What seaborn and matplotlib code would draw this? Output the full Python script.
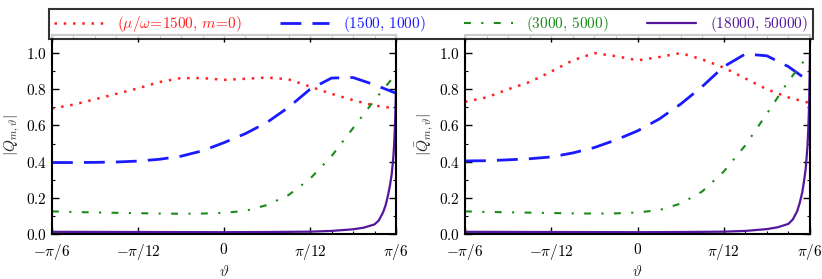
import numpy as np
import matplotlib
matplotlib.use("Agg")
import matplotlib.pyplot as plt
from matplotlib.ticker import FixedLocator, MultipleLocator, FixedFormatter
import seaborn as sns

# angle grid in units of pi/12 (from -pi/6 to pi/6)
u = [-2.0, -1.75, -1.5, -1.25, -1.0, -0.75, -0.5, -0.25, 0.0,
     0.25, 0.5, 0.75, 1.0, 1.25, 1.5, 1.75, 2.0]
u_fine = [-2.0, -1.0, 0.0, 0.5, 1.0, 1.25, 1.5, 1.625, 1.75, 1.8,
          1.85, 1.88, 1.91, 1.93, 1.95, 1.97, 1.98, 1.99, 2.0]

# |Q_{m,theta}|
q_red = [0.694, 0.715, 0.745, 0.775, 0.805, 0.84, 0.862, 0.862, 0.852,
         0.858, 0.865, 0.855, 0.815, 0.775, 0.74, 0.71, 0.694]
q_blue = [0.395, 0.395, 0.396, 0.398, 0.403, 0.413, 0.43, 0.46, 0.505,
          0.555, 0.617, 0.70, 0.80, 0.862, 0.865, 0.825, 0.778]
q_green = [0.125, 0.122, 0.119, 0.117, 0.115, 0.113, 0.112, 0.113, 0.117,
           0.128, 0.160, 0.215, 0.305, 0.43, 0.585, 0.74, 0.885]
q_purple = [0.012, 0.011, 0.010, 0.011, 0.013, 0.017, 0.026, 0.035, 0.053,
            0.075, 0.12, 0.16, 0.22, 0.27, 0.33, 0.43, 0.51, 0.62, 0.80]

# |Qbar_{m,theta}|
qb_red = [0.731, 0.755, 0.80, 0.84, 0.898, 0.96, 1.0, 0.983, 0.96,
          0.978, 1.0, 0.965, 0.92, 0.86, 0.80, 0.755, 0.724]
qb_blue = [0.404, 0.405, 0.410, 0.416, 0.426, 0.448, 0.478, 0.52, 0.57,
           0.635, 0.718, 0.815, 0.925, 0.995, 0.985, 0.925, 0.84]
qb_green = [0.125, 0.122, 0.12, 0.118, 0.116, 0.114, 0.113, 0.114, 0.119,
            0.132, 0.168, 0.235, 0.345, 0.49, 0.665, 0.845, 1.0]
qb_purple = [0.012, 0.011, 0.010, 0.011, 0.013, 0.017, 0.027, 0.037, 0.056,
             0.08, 0.125, 0.17, 0.23, 0.29, 0.36, 0.48, 0.58, 0.72, 1.0]

labels = [r"$(\mu/\omega\!=\!1500,\,m\!=\!0)$", r"$(1500,\,1000)$",
          r"$(3000,\,5000)$", r"$(18000,\,50000)$"]
xtick_labels = [r"$-\pi/6$", r"$-\pi/12$", r"$0$", r"$\pi/12$", r"$\pi/6$"]
ytick_labels = [r"$0.0$", r"$0.2$", r"$0.4$", r"$0.6$", r"$0.8$", r"$1.0$"]

sns.set_style("ticks")
plt.rcParams["mathtext.fontset"] = "cm"
plt.rcParams["font.family"] = ["DejaVu Serif"]
plt.rcParams["font.size"] = 10.5

colors = ["#ff2020", "#1a1aff", "#1a8a1a", "#54169c"]
styles = [dict(linestyle=(0, (1, 2.7)), linewidth=1.8),
          dict(linestyle=(0, (7.5, 4)), linewidth=2.0),
          dict(linestyle=(0, (3.3, 5, 1, 5)), linewidth=1.5),
          dict(linestyle="-", linewidth=1.6)]

th = np.array(u) * np.pi / 12
th_fine = np.array(u_fine) * np.pi / 12

fig = plt.figure(figsize=(8.22, 2.79), dpi=100)
ax1 = fig.add_axes([52 / 822, 45 / 279, 344 / 822, 199 / 279])
ax2 = fig.add_axes([465 / 822, 45 / 279, 345 / 822, 199 / 279])

panels = [
    (ax1, [q_red, q_blue, q_green], q_purple, r"$|Q_{m,\vartheta}|$"),
    (ax2, [qb_red, qb_blue, qb_green], qb_purple, r"$|\bar{Q}_{m,\vartheta}|$"),
]

handles = []
for ax, series, purple, ylab in panels:
    for i, ys in enumerate(series):
        sns.lineplot(x=th, y=ys, ax=ax, color=colors[i], **styles[i])
    sns.lineplot(x=th_fine, y=purple, ax=ax, color=colors[3], **styles[3])
    if not handles:
        handles = list(ax.lines)

    ax.set_xlim(-np.pi / 6, np.pi / 6)
    ax.set_ylim(0, 1.1)
    ax.xaxis.set_major_locator(FixedLocator(np.arange(-2, 3) * np.pi / 12))
    ax.xaxis.set_major_formatter(FixedFormatter(xtick_labels))
    ax.xaxis.set_minor_locator(MultipleLocator(np.pi / 48))
    ax.yaxis.set_major_locator(FixedLocator([0, 0.2, 0.4, 0.6, 0.8, 1.0]))
    ax.yaxis.set_major_formatter(FixedFormatter(ytick_labels))
    ax.yaxis.set_minor_locator(MultipleLocator(0.1))
    ax.tick_params(which="both", direction="in", top=True, right=True,
                   labelsize=11, colors="black")
    ax.tick_params(which="major", length=5, width=1)
    ax.tick_params(which="minor", length=2.5, width=0.8)
    ax.tick_params(axis="x", which="major", pad=6)
    for sp in ax.spines.values():
        sp.set_linewidth(1.5)
        sp.set_color("black")
    ax.set_xlabel(r"$\vartheta$", fontsize=11, labelpad=1)
    ax.set_ylabel(ylab, fontsize=11, labelpad=3)

leg = fig.legend(handles, labels, loc="upper center", ncol=4,
                 bbox_to_anchor=(431 / 822, 1.0 - 1 / 279),
                 fontsize=11, frameon=True, fancybox=False,
                 handlelength=3.2, columnspacing=2.5, borderpad=0.35,
                 handletextpad=0.9)
leg.get_frame().set_edgecolor("black")
leg.get_frame().set_linewidth(1.5)
for txt, c in zip(leg.get_texts(), colors):
    txt.set_color(c)

fig.savefig("out.png", dpi=100)
